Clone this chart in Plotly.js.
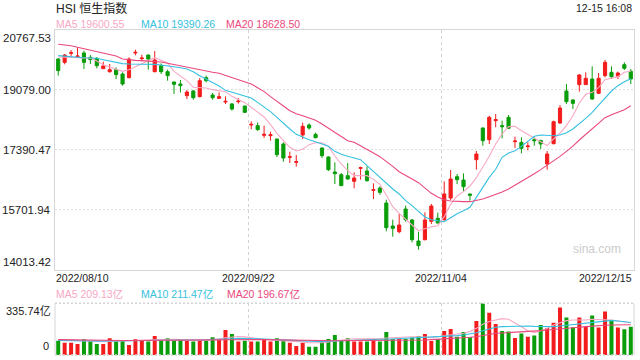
<!DOCTYPE html>
<html><head><meta charset="utf-8">
<script src="https://cdn.plot.ly/plotly-3.0.1.min.js"></script>
<style>html,body{margin:0;padding:0;background:#fff}#chart{width:640px;height:360px}</style>
</head><body><div id="chart"></div>
<script>
const dateLabels = ['2022/08/10', '2022/09/22', '2022/11/04', '2022/12/15'];
const priceTicks = [14013.42, 15701.94, 17390.47, 19079.00, 20767.53];
const volMax = 335.74;

const opens = [19943,19849,20102,20008,20112,19990,19962,19671,19586,19643,
19521,19418,20112,19952,20055,19586,19755,19586,19296,19239,
18911,19042,18883,19417,18930,18836,18733,18677,18742,18620,
18085,18067,17795,17785,17691,17551,17175,17035,17804,18085,
17823,17438,17185,16763,16688,16660,16500,16866,16791,16247,
16312,15890,15243,15083,15721,15412,14821,14858,15374,15459,
15421,16031,16631,16538,16144,17110,18001,17673,18208,18067,
18301,17616,17597,17476,17673,17654,16988,17560,18142,19042,
18789,19221,19221,19380,18977,19474,19568,19455,19783,19596];
const highs = [19962,20084,20196,20271,20177,20055,19999,19868,19802,19708,
19568,19990,20206,20065,20065,20168,19821,19643,19305,19352,
19070,19070,19408,19474,18986,19005,18892,18705,18845,18630,
18189,18160,18067,17898,17701,17597,17335,17241,18151,18132,
17870,17457,17204,17035,16735,17016,16753,16913,16922,16444,
16359,15984,15421,15581,15815,15440,15084,15628,15862,15618,
16500,16819,16706,16725,16153,17354,18020,18348,18395,18208,
18367,17757,17738,17597,17757,17663,17354,18208,18648,19239,
18817,19521,19568,19736,19549,19915,19736,19586,19849,19661];
const lows = [19474,19793,20018,19980,19661,19802,19680,19661,19558,19380,
19192,19399,20046,19877,19643,19568,19521,19333,18961,18999,
18817,18798,18864,19286,18798,18817,18677,18489,18686,18423,
17964,17926,17720,17645,17185,17054,17016,16913,17691,17954,
17710,17157,16791,16425,16369,16547,16303,16547,16491,16003,
16125,15093,14943,15037,15365,14783,14577,14839,15299,15318,
15393,15975,16425,16209,15956,16828,17504,17551,18020,17710,
17973,17438,17288,17373,17504,17410,16828,17541,18114,18677,
18536,19024,19211,18798,18958,19427,19380,19380,19633,19239];
const closes = [19615,20055,20121,20027,19849,19924,19755,19746,19643,19502,
19239,19943,20131,19971,19943,19915,19586,19474,19230,19192,
19014,18855,19333,19333,18855,18883,18752,18536,18761,18442,
18104,17954,17823,17813,17251,17157,17194,17054,18048,18001,
17729,17222,16828,16716,16378,16566,16594,16885,16519,16266,
16190,15196,15177,15271,15421,14858,14690,15412,15806,15328,
16144,16566,16547,16350,16106,17269,17644,18301,18236,18039,
17992,17635,17429,17494,17644,17551,17269,18179,18564,18742,
18695,19493,19399,18817,19399,19849,19446,19549,19680,19380];

const ma5 = [19999,19990,19980,19980,19971,19962,19887,19783,19718,19661,
19596,19643,19727,19802,19896,19980,19905,19830,19596,19474,
19333,19146,19146,19127,19080,19052,19024,18892,18808,18714,
18583,18442,18311,18095,17851,17645,17457,17354,17401,17532,
17588,17588,17485,17213,16988,16800,16660,16660,16660,16556,
16416,16116,15787,15600,15421,15271,15112,15177,15224,15252,
15506,15853,16087,16209,16369,16603,16885,17204,17551,17832,
18039,18048,17926,17832,17720,17616,17504,17692,17860,18067,
18348,18705,18949,19005,19136,19361,19399,19446,19568,19600.55];
const ma10 = [20037,20018,20009,19999,19980,19971,19962,19924,19887,19849,
19812,19802,19802,19802,19802,19793,19774,19755,19727,19699,
19661,19586,19474,19380,19286,19183,19061,19005,18939,18892,
18845,18723,18601,18461,18301,18123,17973,17823,17738,17673,
17616,17551,17485,17344,17260,17204,17157,17110,16941,16772,
16613,16444,16284,16144,15956,15815,15646,15496,15421,15384,
15365,15478,15590,15675,15768,16050,16340,16610,16840,17176,
17298,17363,17485,17616,17767,17804,17795,17785,17804,17870,
17973,18114,18273,18442,18648,18836,19042,19192,19305,19390.26];
const ma20 = [20356,20337,20318,20271,20234,20196,20159,20112,20084,20027,
19943,19915,19905,19896,19887,19877,19858,19821,19783,19755,
19718,19671,19633,19596,19568,19540,19483,19418,19352,19296,
19239,19136,19024,18883,18742,18620,18489,18404,18348,18292,
18217,18114,18001,17879,17767,17645,17598,17504,17401,17298,
17194,17063,16922,16772,16660,16566,16463,16303,16162,16059,
15984,15947,15928,15928,15928,15956,16003,16069,16125,16200,
16284,16387,16486,16594,16716,16829,16950,17063,17204,17344,
17489,17663,17814,17973,18132,18292,18376,18451,18517,18628.50];

const volume = [93,80,80,71,102,91,71,71,108,91,
97,65,102,93,87,123,97,108,91,104,
93,87,97,93,115,97,162,136,87,93,
87,87,102,87,108,93,80,58,80,54,
54,93,104,130,93,108,87,87,87,104,
87,149,104,104,104,113,123,136,91,102,
156,169,119,149,115,221,335.74,275,201,156,
152,110,139,119,126,195,175,210,308,243,
180,243,184,256,178,282,223,178,167,184];
const volMa5 = [100,98,95,92,90,88,86,86,88,90,
92,92,93,95,96,98,100,102,102,100,
98,97,96,97,100,105,112,118,120,118,
112,105,100,97,95,93,92,90,85,80,
78,80,85,92,97,102,106,106,104,104,
106,110,113,115,117,119,119,117,113,119,
126,130,136,141,152,173,199,217,227,236,
232,210,184,158,145,158,173,195,210,223,
227,227,227,232,230,232,227,221,214,209.13];
const volMa10 = [95,95,94,93,92,91,90,90,90,90,
91,91,92,93,94,95,96,97,97,97,
97,97,97,98,99,100,103,106,108,108,
107,105,103,101,99,97,95,93,92,90,
88,87,89,91,91,93,95,97,97,100,
102,102,104,104,106,108,110,113,115,117,
119,121,126,130,136,145,158,171,180,184,
186,188,188,188,186,184,184,184,188,193,
199,204,208,214,219,223,225,221,214,211.47];
const volMa20 = [100,99,98,97,96,95,94,94,94,94,
94,94,94,94,95,95,95,95,96,96,
96,96,96,97,97,98,99,100,100,100,
100,100,100,99,99,98,97,96,95,94,
93,93,93,93,93,95,95,95,95,95,
97,97,97,97,97,97,97,97,100,102,
104,106,108,110,115,119,126,136,141,143,
145,147,149,152,154,158,162,165,167,171,
175,180,184,188,191,193,195,195,197,196.67];

const UP = '#f31c1c', DOWN = '#0a9d0a';
const C5 = '#f7a8c4', C10 = '#36c1e0', C20 = '#e9487c';
const FONT = '"Liberation Sans", Arial, "Noto Sans CJK SC", sans-serif';
const idx = closes.map((_, i) => i);
const volColors = closes.map((c, i) => c >= opens[i] ? UP : DOWN);
const last = a => a[a.length - 1];
const H = 360;
const py = p => 1 - p / H;

const traces = [
  {type: 'candlestick', x: idx, open: opens, high: highs, low: lows, close: closes,
   increasing: {line: {color: UP, width: 1}, fillcolor: UP},
   decreasing: {line: {color: DOWN, width: 1}, fillcolor: DOWN},
   whiskerwidth: 0, hoverinfo: 'skip', xaxis: 'x', yaxis: 'y'},
  {type: 'scatter', mode: 'lines', x: idx, y: ma5, line: {color: C5, width: 1.1}, hoverinfo: 'skip'},
  {type: 'scatter', mode: 'lines', x: idx, y: ma10, line: {color: C10, width: 1.1}, hoverinfo: 'skip'},
  {type: 'scatter', mode: 'lines', x: idx, y: ma20, line: {color: C20, width: 1.1}, hoverinfo: 'skip'},
  {type: 'bar', x: idx, y: volume, width: 0.62, marker: {color: volColors, line: {width: 0}},
   xaxis: 'x2', yaxis: 'y2', hoverinfo: 'skip'},
  {type: 'scatter', mode: 'lines', x: idx, y: volMa5, line: {color: C5, width: 1.1}, xaxis: 'x2', yaxis: 'y2', hoverinfo: 'skip'},
  {type: 'scatter', mode: 'lines', x: idx, y: volMa10, line: {color: C10, width: 1.1}, xaxis: 'x2', yaxis: 'y2', hoverinfo: 'skip'},
  {type: 'scatter', mode: 'lines', x: idx, y: volMa20, line: {color: C20, width: 1.1}, xaxis: 'x2', yaxis: 'y2', hoverinfo: 'skip'}
];

const gridX = [29.5, 59.5];
const ann = [];
function txt(text, x, xref, xanchor, ypx, size, color, xshift) {
  ann.push({text: text, x: x, xref: xref, xanchor: xanchor, y: py(ypx), yref: 'paper', yanchor: 'middle',
    showarrow: false, xshift: xshift || 0, font: {family: FONT, size: size, color: color}});
}
txt('HSI 恒生指数', 0, 'paper', 'left', 8, 12, '#222', -1);
txt('12-15 16:08', 1, 'paper', 'right', 8, 10.5, '#222', 0);
txt('MA5 ' + last(ma5).toFixed(2), 0, 'paper', 'left', 24, 10.5, C5, -1);
txt('MA10 ' + last(ma10).toFixed(2), 0, 'paper', 'left', 24, 10.5, C10, 84);
txt('MA20 ' + last(ma20).toFixed(2), 0, 'paper', 'left', 24, 10.5, C20, 169);
txt(dateLabels[0], 0, 'paper', 'left', 278, 10.5, '#222', -1);
txt(dateLabels[1], gridX[0], 'x', 'center', 278, 10.5, '#222', 0);
txt(dateLabels[2], gridX[1], 'x', 'center', 278, 10.5, '#222', 0);
txt(dateLabels[3], 1, 'paper', 'right', 278, 10.5, '#222', 0);
txt('MA5 ' + last(volMa5).toFixed(2) + '亿', 0, 'paper', 'left', 294, 10.5, C5, -1);
txt('MA10 ' + last(volMa10).toFixed(2) + '亿', 0, 'paper', 'left', 294, 10.5, C10, 84);
txt('MA20 ' + last(volMa20).toFixed(2) + '亿', 0, 'paper', 'left', 294, 10.5, C20, 170);
txt('sina.com', 1, 'paper', 'right', 249, 12, '#cccccc', -11);

priceTicks.forEach((v, i) => {
  const n = priceTicks.length - 1;
  ann.push({text: v.toFixed(2), x: 0, xref: 'paper', xanchor: 'right', xshift: -2,
    y: v, yref: 'y', yanchor: i === 0 ? 'bottom' : (i === n ? 'top' : 'middle'),
    showarrow: false, font: {family: FONT, size: 11.5, color: '#222'}});
});
ann.push({text: volMax.toFixed(2) + '亿', x: 0, xref: 'paper', xanchor: 'right', xshift: -2,
  y: volMax, yref: 'y2', yanchor: 'top', showarrow: false, font: {family: FONT, size: 11, color: '#222'}});
ann.push({text: '0', x: 0, xref: 'paper', xanchor: 'right', xshift: -4,
  y: 0, yref: 'y2', yanchor: 'bottom', yshift: 1, showarrow: false, font: {family: FONT, size: 11, color: '#222'}});

const BORDER = '#d6d6d6';
const layout = {
  width: 640, height: 360, margin: {l: 55, r: 6, t: 0, b: 0, pad: 0},
  paper_bgcolor: '#ffffff', plot_bgcolor: '#ffffff', showlegend: false, boxgap: 0.3,
  xaxis: {domain: [0, 1], anchor: 'y', range: [-0.5, 89.5], tickvals: gridX, showticklabels: false, ticks: '',
    showgrid: true, gridcolor: '#d2d2d2', griddash: '3px,3px', gridwidth: 1, zeroline: false,
    showline: true, mirror: true, linecolor: BORDER, linewidth: 1, rangeslider: {visible: false}, fixedrange: true},
  yaxis: {domain: [90.3 / H, 330.3 / H], anchor: 'x', range: [priceTicks[0], last(priceTicks)],
    tickvals: priceTicks.slice(1, -1), showticklabels: false, ticks: '',
    showgrid: true, gridcolor: '#e0e0e0', griddash: '2px,2px', gridwidth: 1.5, zeroline: false,
    showline: true, mirror: true, linecolor: BORDER, linewidth: 1, fixedrange: true},
  xaxis2: {domain: [0, 1], anchor: 'y2', matches: 'x', range: [-0.5, 89.5], tickvals: gridX, showticklabels: false, ticks: '',
    showgrid: true, gridcolor: '#d2d2d2', griddash: '3px,3px', gridwidth: 1, zeroline: false, showline: false, fixedrange: true},
  yaxis2: {domain: [5 / H, 56.7 / H], anchor: 'x2', range: [0, volMax], showticklabels: false, ticks: '',
    showgrid: false, zeroline: false, showline: false, fixedrange: true},
  shapes: [
    {type: 'line', xref: 'paper', yref: 'y2 domain', x0: 0, x1: 1, y0: 1, y1: 1, line: {color: '#d4d4d4', width: 1.5, dash: '2px,2px'}},
    {type: 'line', xref: 'paper', yref: 'y2 domain', x0: 0, x1: 1, y0: 0, y1: 0, line: {color: '#d4d4d4', width: 1.5, dash: '2px,2px'}},
    {type: 'line', xref: 'paper', yref: 'y2 domain', x0: 0, x1: 0, y0: 0, y1: 1, line: {color: BORDER, width: 1}},
    {type: 'line', xref: 'paper', yref: 'y2 domain', x0: 1, x1: 1, y0: 0, y1: 1, line: {color: BORDER, width: 1}}
  ],
  annotations: ann
};
Plotly.newPlot('chart', traces, layout, {staticPlot: true, displayModeBar: false});
</script>
</body></html>
